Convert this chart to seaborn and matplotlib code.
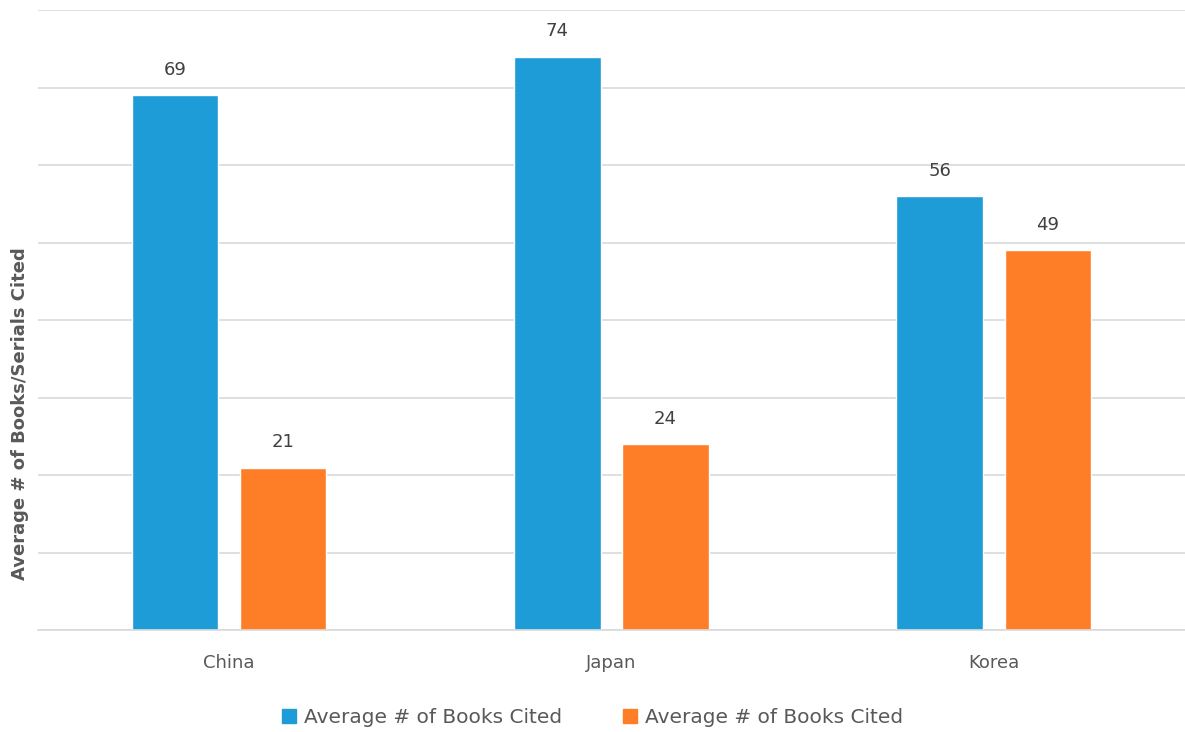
import numpy as np
import matplotlib
matplotlib.use("Agg")
import matplotlib.pyplot as plt
import pandas as pd
import seaborn as sns

#%% Dati
countries = ["China", "Japan", "Korea"]
series_names = ["Average # of Books Cited", "Average # of Books Cited "]
books_cited = [69, 74, 56]
serials_cited = [21, 24, 49]

df = pd.DataFrame({
    "country": countries * 2,
    "series": [series_names[0]] * 3 + [series_names[1]] * 3,
    "value": books_cited + serials_cited,
})

#%% Stile
sns.set_style("white")
plt.rcParams["font.family"] = ["DejaVu Sans"]
pal = {series_names[0]: "#1E9CD8", series_names[1]: "#FD7E26"}
txt_col = "#595959"

fig = plt.figure(figsize=(11.85, 7.32), dpi=100)
ax = fig.add_axes([0.032, 0.139, 0.968, 0.847])

sns.barplot(data=df, x="country", y="value", hue="series", palette=pal,
            width=0.566, gap=0.2, ax=ax, legend=False, saturation=1)

for c in ax.containers:
    ax.bar_label(c, padding=12, fontsize=13, color="#404040")

ax.set_ylim(0, 80)
ax.set_xlim(-0.5, 2.5)
ax.set_yticks(np.arange(0, 81, 10))
ax.set_yticklabels([])
ax.tick_params(axis="y", length=0)
ax.tick_params(axis="x", length=0, labelsize=13, labelcolor=txt_col, pad=17)
ax.grid(axis="y", color="#D9D9D9", linewidth=1.2)
ax.set_axisbelow(True)
for s in ["top", "right", "left"]:
    ax.spines[s].set_visible(False)
ax.spines["bottom"].set_color("#D9D9D9")
ax.spines["bottom"].set_linewidth(1.2)
ax.set_xlabel("")
ax.set_ylabel("Average # of Books/Serials Cited", fontsize=13, fontweight="bold",
              color=txt_col, va="center")
ax.yaxis.set_label_coords(-0.016, 0.35)

handles = [plt.Rectangle((0, 0), 1, 1, color=pal[n]) for n in series_names]
fig.legend(handles, ["Average # of Books Cited", "Average # of Books Cited"],
           loc="lower center", bbox_to_anchor=(0.5, -0.018), ncol=2, frameon=False,
           fontsize=14.5, labelcolor=txt_col, handlelength=0.7, handleheight=0.7,
           columnspacing=3, handletextpad=0.4)

fig.savefig("out.png", dpi=100)
